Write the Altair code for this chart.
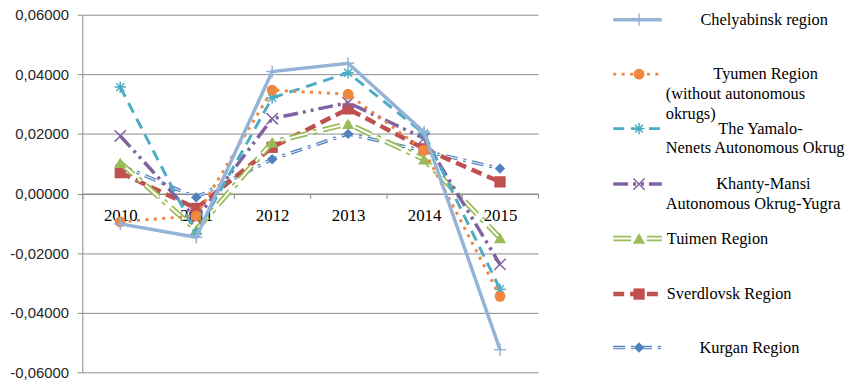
import altair as alt
import pandas as pd

# ---------------- data ----------------
years = ["2010", "2011", "2012", "2013", "2014", "2015"]
series_names = [
    "Chelyabinsk region",
    "Tyumen Region (without autonomous okrugs)",
    "The Yamalo-Nenets Autonomous Okrug",
    "Khanty-Mansi Autonomous Okrug-Yugra",
    "Tuimen Region",
    "Sverdlovsk Region",
    "Kurgan Region",
]
chelyabinsk = [-0.0102, -0.0147, 0.0409, 0.0437, 0.0206, -0.0524]
tyumen = [-0.0095, -0.0075, 0.0347, 0.0333, 0.0145, -0.0345]
yamalo = [0.0357, -0.0135, 0.0321, 0.0405, 0.0201, -0.0321]
khanty = [0.0193, -0.0085, 0.0251, 0.0305, 0.0185, -0.0238]
tuimen = [0.0103, -0.0122, 0.0172, 0.0234, 0.0115, -0.0149]
sverdlovsk = [0.0070, -0.0050, 0.0155, 0.0284, 0.0150, 0.0039]
kurgan = [0.0095, -0.0013, 0.0115, 0.0200, 0.0143, 0.0084]
all_values = [chelyabinsk, tyumen, yamalo, khanty, tuimen, sverdlovsk, kurgan]

y_ticks = [-0.06, -0.04, -0.02, 0.0, 0.02, 0.04, 0.06]

legend_lines = [
    ["Chelyabinsk region"],
    ["Tyumen Region", "(without autonomous", "okrugs)"],
    ["The Yamalo-", "Nenets Autonomous Okrug"],
    ["Khanty-Mansi", "Autonomous Okrug-Yugra"],
    ["Tuimen Region"],
    ["Sverdlovsk Region"],
    ["Kurgan Region"],
]

# ---------------- styles / layout ----------------
PLUS = "M-1,0L1,0M0,-1L0,1"
ASTER = "M-1,0L1,0M0,-1L0,1M-0.7,-0.7L0.7,0.7M-0.7,0.7L0.7,-0.7"
XMARK = "M-1,-1L1,1M-1,1L1,-1"
styles = [
    dict(color="#95B3D7", dash=None, width=3.5, shape=PLUS, size=150, filled=False),
    dict(color="#EE8740", dash=[3, 5.5], width=3, shape="circle", size=120, filled=True),
    dict(color="#4BACC6", dash=[11, 7], width=3, shape=ASTER, size=130, filled=False),
    dict(color="#8064A2", dash=[15, 5, 3, 5, 3, 5], width=3.5, shape=XMARK, size=130, filled=False),
    dict(color="#9BBB59", dash=[18, 6, 4, 6], width=5.5, shape="triangle-up", size=150, filled=True,
         inner="white", inner_w=2),
    dict(color="#C0504D", dash=[11, 6], width=4.5, shape="square", size=130, filled=True),
    dict(color="#4F81BD", dash=[12, 6, 3, 6], width=3.5, shape="diamond", size=110, filled=True,
         inner="#DCE6F2", inner_w=1.2),
]

W, H = 460, 361
# legend layout (pixels relative to plot origin)
leg_sym_y = [5, 60, 115, 171, 226, 282, 336]
leg_first_x = [624, 637, 642, 640, 590, 590, 623]
leg_cont_x = 589
leg_line_gap = 20
leg_seg = (536, 585)
leg_mark_x = 562

rows = []
for name, vals in zip(series_names, all_values):
    for yr, v in zip(years, vals):
        rows.append({"year": yr, "series": name, "value": v})
df = pd.DataFrame(rows)

x_enc = alt.X(
    "year:O",
    bandPosition=0.5,
    scale=alt.Scale(type="band", paddingInner=0, paddingOuter=0),
    axis=alt.Axis(
        title=None, labelAngle=0, offset=-H / 2, tickBand="extent", tickSize=5,
        domainColor="#8C8C8C", tickColor="#8C8C8C", grid=False,
        labelFont="Liberation Serif", labelFontSize=17, labelColor="black",
        labelPadding=9,
    ),
)
y_enc = alt.Y(
    "value:Q",
    scale=alt.Scale(domain=[-0.06, 0.06], nice=False, zero=False),
    axis=alt.Axis(
        title=None, values=y_ticks, grid=True, gridColor="#8C8C8C",
        domainColor="#8C8C8C", tickColor="#8C8C8C", tickSize=5,
        labelFont="Liberation Sans", labelFontSize=15, labelColor="#262626",
        labelPadding=9,
        labelExpr="replace(replace(format(datum.value, '.5f'), '.', ','), '\u2212', '-')",
    ),
)

base = alt.Chart(df)
layers = []
for i in reversed(range(len(series_names))):
    st = styles[i]
    sub = base.transform_filter(alt.datum.series == series_names[i])
    kw = dict(color=st["color"], strokeWidth=st["width"])
    if st["dash"]:
        kw["strokeDash"] = st["dash"]
    layers.append(sub.mark_line(**kw).encode(x=x_enc, y=y_enc))
    if "inner" in st:
        layers.append(sub.mark_line(color=st["inner"], strokeWidth=st["inner_w"],
                                    strokeDash=st["dash"]).encode(x=x_enc, y=y_enc))
    if st["filled"]:
        pm = sub.mark_point(shape=st["shape"], size=st["size"], filled=True,
                            color=st["color"], opacity=1)
    else:
        pm = sub.mark_point(shape=st["shape"], size=st["size"], filled=False,
                            color=st["color"], strokeWidth=1.5, opacity=1)
    layers.append(pm.encode(x=x_enc, y=y_enc))

# ---------------- legend ----------------
leg_rows = []
txt_rows = []
for i, name in enumerate(series_names):
    leg_rows.append({"series": name, "x1": leg_seg[0], "x2": leg_seg[1],
                     "xm": leg_mark_x, "y": leg_sym_y[i]})
    for j, t in enumerate(legend_lines[i]):
        txt_rows.append({"text": t,
                         "x": leg_first_x[i] if j == 0 else leg_cont_x,
                         "y": leg_sym_y[i] + j * leg_line_gap})
leg_df = pd.DataFrame(leg_rows)
txt_df = pd.DataFrame(txt_rows)

lx = alt.X("x1:Q", scale=None, axis=None)
lxm = alt.X("xm:Q", scale=None, axis=None)
ly = alt.Y("y:Q", scale=None, axis=None)
for i, name in enumerate(series_names):
    st = styles[i]
    sub = alt.Chart(leg_df).transform_filter(alt.datum.series == name)
    kw = dict(color=st["color"], strokeWidth=st["width"])
    if st["dash"]:
        kw["strokeDash"] = st["dash"]
    layers.append(sub.mark_rule(**kw).encode(x=lx, x2="x2:Q", y=ly))
    if "inner" in st:
        layers.append(sub.mark_rule(color=st["inner"], strokeWidth=st["inner_w"],
                                    strokeDash=st["dash"]).encode(x=lx, x2="x2:Q", y=ly))
    if st["filled"]:
        pm = sub.mark_point(shape=st["shape"], size=st["size"], filled=True,
                            color=st["color"], opacity=1)
    else:
        pm = sub.mark_point(shape=st["shape"], size=st["size"], filled=False,
                            color=st["color"], strokeWidth=1.5, opacity=1)
    layers.append(pm.encode(x=lxm, y=ly))

layers.append(
    alt.Chart(txt_df).mark_text(align="left", baseline="middle", font="Liberation Serif",
                                fontSize=16.5, color="black")
    .encode(x=alt.X("x:Q", scale=None, axis=None), y=alt.Y("y:Q", scale=None, axis=None),
            text="text:N")
)

chart = (
    alt.layer(*layers)
    .properties(
        width=W, height=H,
        padding={"left": 75, "top": 5, "right": 319, "bottom": 6},
        autosize=alt.AutoSizeParams(type="none"),
        background="white",
    )
    .configure_view(stroke=None)
)

chart.save("out.html", embed_options={"renderer": "svg", "actions": False})
